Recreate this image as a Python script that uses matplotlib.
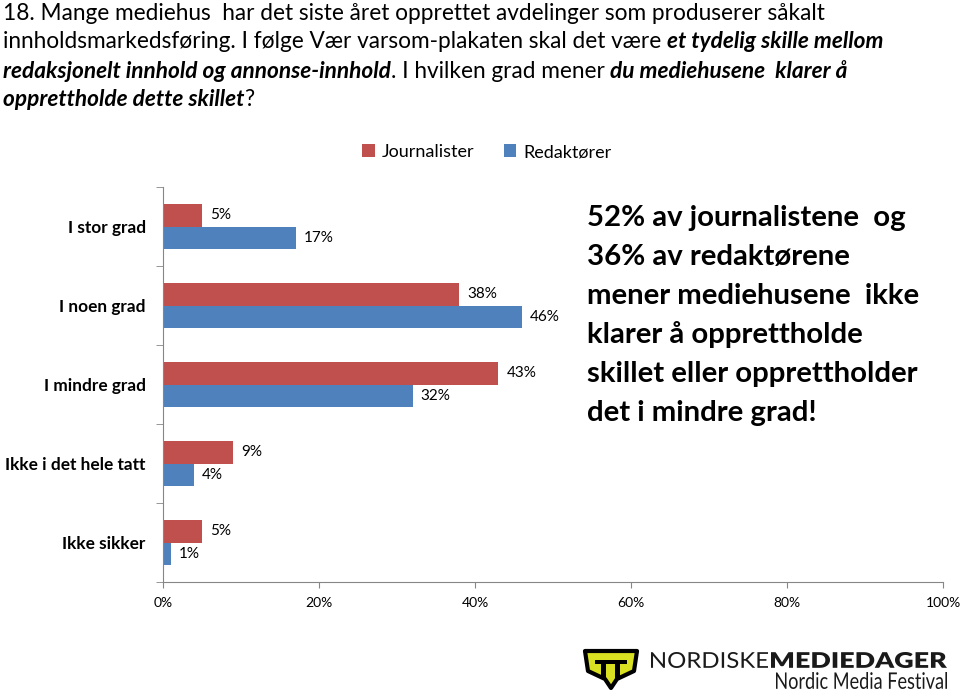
import matplotlib
matplotlib.use("Agg")
import matplotlib.pyplot as plt
from matplotlib.patches import Polygon, Rectangle, PathPatch
from matplotlib.transforms import offset_copy, Affine2D, IdentityTransform
from matplotlib.textpath import TextPath
from matplotlib.font_manager import FontProperties
import numpy as np

categories = ["I stor grad", "I noen grad", "I mindre grad", "Ikke i det hele tatt", "Ikke sikker"]
journalister = [5, 38, 43, 9, 5]
redaktorer = [17, 46, 32, 4, 1]
series_names = ["Journalister", "Redaktører"]
xticks = [0, 20, 40, 60, 80, 100]

RED = "#C0504D"
BLUE = "#4F81BD"
FONT = "Lato"

W, H = 960, 690
fig = plt.figure(figsize=(W / 100, H / 100), dpi=100)
renderer = fig.canvas.get_renderer()

def px(x, y):
    return x / W, 1 - y / H

def fit_size(txt, width_px, weight="normal", style="normal", base=14):
    t = fig.text(0, 0, txt, fontsize=base, family=FONT, weight=weight, style=style)
    w = t.get_window_extent(renderer).width
    t.remove()
    return base * width_px / w

def seg_line(x0, y, segs, size):
    x = x0
    for txt, bi in segs:
        kw = dict(weight="bold", style="italic") if bi else {}
        t = fig.text(x / W, 1 - y / H, txt, fontsize=size, family=FONT, va="center", ha="left", **kw)
        x += t.get_window_extent(renderer).width

def box_text(txt, x0, x1, ytop, ybot, weight="normal", color="#1a1a1a"):
    tp = TextPath((0, 0), txt, size=1, prop=FontProperties(family=FONT, weight=weight))
    ext = tp.get_extents()
    sx = (x1 - x0) / ext.width
    sy = (ybot - ytop) / ext.height
    tr = (Affine2D().translate(-ext.x0, -ext.y0).scale(sx, sy)
          .translate(x0, H - ybot))
    p = PathPatch(tr.transform_path(tp), facecolor=color, edgecolor="none",
                  transform=IdentityTransform())
    fig.patches.append(p)

# Title
tsize = fit_size("18. Mange mediehus  har det siste året opprettet avdelinger som produserer såkalt", 822)
lines = [
    [("18. Mange mediehus  har det siste året opprettet avdelinger som produserer såkalt", False)],
    [("innholdsmarkedsføring. I følge Vær varsom-plakaten skal det være ", False), ("et tydelig skille mellom", True)],
    [("redaksjonelt innhold og annonse-innhold", True), (". I hvilken grad mener ", False), ("du mediehusene  klarer å", True)],
    [("opprettholde dette skillet", True), ("?", False)],
]
for i, segs in enumerate(lines):
    seg_line(3, 13 + 29 * i, segs, tsize)

# Axes
l, r, t_, b = 163, 943, 187, 582
ax = fig.add_axes([l / W, 1 - b / H, (r - l) / W, (b - t_) / H])
y = np.arange(len(categories))
bh = 0.285
ax.barh(y - bh / 2, journalister, height=bh, color=RED, label=series_names[0])
ax.barh(y + bh / 2, redaktorer, height=bh, color=BLUE, label=series_names[1])
for yi, v in zip(y, journalister):
    ax.text(v, yi - bh / 2, f"{v}%", va="center", ha="left", fontsize=11, family=FONT,
            transform=offset_copy(ax.transData, fig=fig, x=8, y=0, units="dots"))
for yi, v in zip(y, redaktorer):
    ax.text(v, yi + bh / 2, f"{v}%", va="center", ha="left", fontsize=11, family=FONT,
            transform=offset_copy(ax.transData, fig=fig, x=8, y=0, units="dots"))

catsize = fit_size("Ikke i det hele tatt", 141, weight="bold")
ax.set_xlim(0, 100)
ax.set_ylim(len(categories) - 0.5, -0.5)
ax.set_xticks(xticks)
ax.set_xticklabels([f"{v}%" for v in xticks], fontsize=10, family=FONT)
ax.set_yticks(y)
ax.set_yticklabels(categories, fontsize=catsize, family=FONT, weight="bold")
ax.tick_params(axis="y", length=0, pad=12.5)
ax.set_yticks(np.arange(-0.5, len(categories) + 0.5, 1), minor=True)
ax.tick_params(axis="y", which="minor", length=5, color="#868686")
ax.tick_params(axis="x", length=4, color="#868686", pad=7)
for s in ["top", "right"]:
    ax.spines[s].set_visible(False)
for s in ["left", "bottom"]:
    ax.spines[s].set_color("#868686")

leg = fig.legend(loc="center", bbox_to_anchor=px(487, 152), ncol=2, frameon=False,
                 prop={"family": FONT, "size": 13}, handlelength=0.7, handleheight=0.7,
                 handletextpad=0.4, columnspacing=1.6)

# Annotation
ann = ["52% av journalistene  og", "36% av redaktørene", "mener mediehusene  ikke",
       "klarer å opprettholde", "skillet eller opprettholder", "det i mindre grad!"]
asize = fit_size(ann[0], 321, weight="bold")
for i, s in enumerate(ann):
    fig.text(587 / W, 1 - (218 + 39 * i) / H, s, fontsize=asize, family=FONT, weight="bold",
             va="center", ha="left")

# Logo
icon = Polygon([px(585, 651), px(637, 651), px(634, 671), px(617, 679), px(611, 688),
                px(605, 679), px(588, 671)], closed=True, transform=fig.transFigure,
               facecolor="#D9E021", edgecolor="black", linewidth=3, joinstyle="round")
fig.patches.append(icon)
for xx in (601, 615):
    fig.patches.append(Rectangle(px(xx, 678), 5 / W, 15 / H, transform=fig.transFigure,
                                 facecolor="black", edgecolor="none"))
fig.patches.append(Rectangle(px(595, 664), 32 / W, 4 / H, transform=fig.transFigure,
                             facecolor="black", edgecolor="none"))
box_text("NORDISKE", 651, 768, 652, 668, weight="normal")
box_text("MEDIEDAGER", 771, 947, 652, 668, weight="heavy")
box_text("Nordic Media Festival", 776, 947, 672, 689, weight="normal")

fig.savefig("out.png", dpi=100)
